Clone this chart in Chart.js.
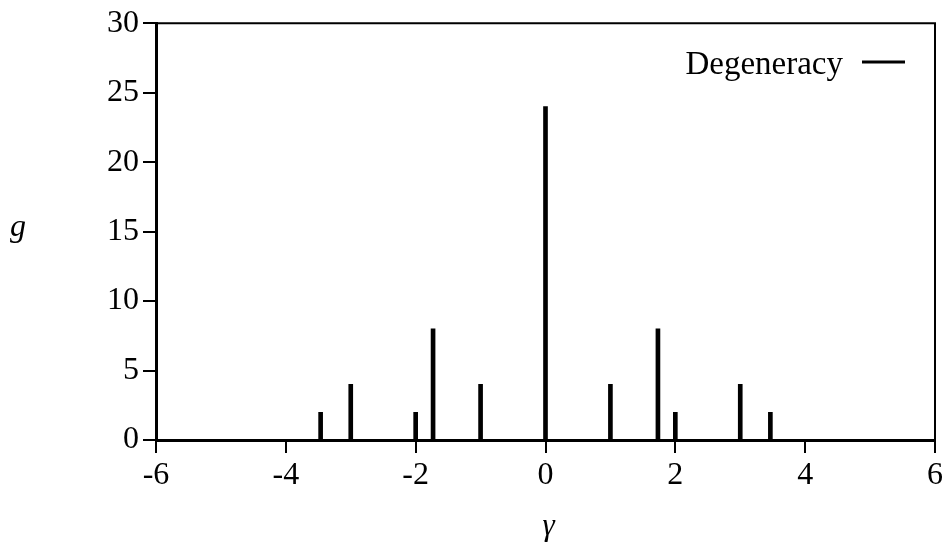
<!DOCTYPE html>
<html>
<head>
<meta charset="utf-8">
<script src="https://cdn.jsdelivr.net/npm/chart.js@4/dist/chart.umd.min.js"></script>
<style>
  html, body { margin: 0; padding: 0; background: #fff; }
  #wrap { width: 946px; height: 546px; position: relative; }
</style>
</head>
<body>
<div id="wrap"><canvas id="c" width="946" height="546"></canvas></div>
<script>
const gammaValues = [-3.464, -3, -2, -1.732, -1, 0, 1, 1.732, 2, 3, 3.464];
const degeneracy = [2, 4, 2, 8, 4, 24, 4, 8, 2, 4, 2];
const xTickValues = [-6, -4, -2, 0, 2, 4, 6];
const xTickLabels = ['-6', '-4', '-2', '0', '2', '4', '6'];
const yTickValues = [0, 5, 10, 15, 20, 25, 30];
const yTickLabels = ['0', '5', '10', '15', '20', '25', '30'];
const seriesLabel = 'Degeneracy';
const xTitle = 'γ';
const yTitle = 'g';

const FONT = "'Liberation Serif', 'Times New Roman', serif";
Chart.defaults.font.family = FONT;
Chart.defaults.color = '#000';

const decorPlugin = {
  id: 'decor',
  afterDraw(chart) {
    const ctx = chart.ctx;
    const a = chart.chartArea;
    ctx.save();
    ctx.strokeStyle = '#000';
    ctx.lineWidth = 2;
    ctx.beginPath();
    ctx.moveTo(a.left, a.top);
    ctx.lineTo(a.right, a.top);
    ctx.lineTo(a.right, a.bottom);
    ctx.stroke();
    ctx.font = "33px " + FONT;
    ctx.fillStyle = '#000';
    ctx.textAlign = 'right';
    ctx.textBaseline = 'alphabetic';
    ctx.fillText(chart.data.datasets[0].label, a.right - 92, 74);
    ctx.lineWidth = 3;
    ctx.beginPath();
    ctx.moveTo(a.right - 73, 62);
    ctx.lineTo(a.right - 30, 62);
    ctx.stroke();
    ctx.font = "italic 32px " + FONT;
    ctx.textAlign = 'center';
    ctx.fillText(yTitle, 18, 236);
    ctx.font = "italic 31px " + FONT;
    ctx.fillText(xTitle, (a.left + a.right) / 2 + 3, 535);
    ctx.restore();
  }
};

new Chart(document.getElementById('c'), {
  type: 'bar',
  data: {
    datasets: [{
      label: seriesLabel,
      data: gammaValues.map((g, i) => ({ x: g, y: degeneracy[i] })),
      backgroundColor: '#000',
      borderWidth: 0,
      barThickness: 4
    }]
  },
  options: {
    responsive: false,
    animation: false,
    devicePixelRatio: 1,
    layout: { padding: { left: 0, right: 11, top: 23, bottom: 0 } },
    plugins: {
      legend: { display: false },
      tooltip: { enabled: false }
    },
    scales: {
      x: {
        type: 'linear',
        min: -6, max: 6,
        offset: false,
        afterBuildTicks(scale) { scale.ticks = xTickValues.map(v => ({ value: v })); },
        afterFit(scale) { scale.height = 106; },
        ticks: {
          callback: (v) => xTickLabels[xTickValues.indexOf(v)],
          font: { size: 32 },
          color: '#000',
          padding: 3,
          maxRotation: 0,
          autoSkip: false
        },
        grid: { offset: false, drawOnChartArea: false, drawTicks: true, tickLength: 13, color: '#000', lineWidth: 2 },
        border: { display: true, color: '#000', width: 3 }
      },
      y: {
        type: 'linear',
        min: 0, max: 30,
        afterBuildTicks(scale) { scale.ticks = yTickValues.map(v => ({ value: v })); },
        afterFit(scale) { scale.width = 156; },
        ticks: {
          callback: (v) => yTickLabels[yTickValues.indexOf(v)],
          font: { size: 32 },
          color: '#000',
          padding: 4,
          autoSkip: false
        },
        grid: { drawOnChartArea: false, drawTicks: true, tickLength: 13, color: '#000', lineWidth: 2 },
        border: { display: true, color: '#000', width: 3 }
      }
    }
  },
  plugins: [decorPlugin]
});
</script>
</body>
</html>
